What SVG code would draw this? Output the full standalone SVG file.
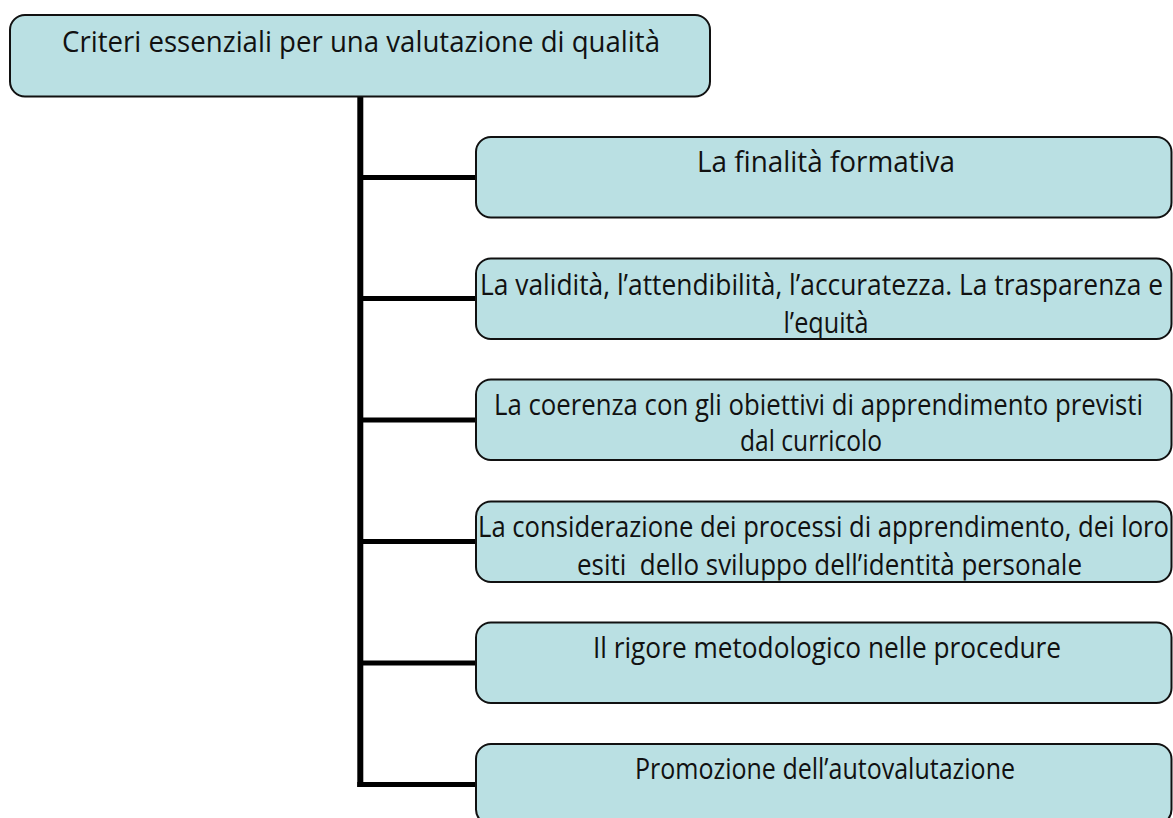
<svg xmlns="http://www.w3.org/2000/svg" width="1173" height="818" viewBox="0 0 1173 818">
<style>
.box{fill:#bae0e3;stroke:#111;stroke-width:2}
.t{font-family:"Open Sans","Noto Sans","Liberation Sans",sans-serif;font-size:29.5px;fill:#111;text-anchor:middle}
.conn{stroke:#000;fill:none}
</style>
<defs>
<clipPath id="c2"><rect x="477" y="259.5" width="694" height="78.5"/></clipPath>
<clipPath id="c4"><rect x="477" y="502.5" width="694" height="78"/></clipPath>
</defs>
<rect width="1173" height="818" fill="#fff"/>
<g id="connectors">
<line class="conn" x1="360.3" y1="96" x2="360.3" y2="787" stroke-width="6"/>
<line class="conn" x1="360" y1="177.5" x2="476" y2="177.5" stroke-width="5"/>
<line class="conn" x1="360" y1="298.5" x2="476" y2="298.5" stroke-width="5"/>
<line class="conn" x1="360" y1="420" x2="476" y2="420" stroke-width="5"/>
<line class="conn" x1="360" y1="541.5" x2="476" y2="541.5" stroke-width="5"/>
<line class="conn" x1="360" y1="663" x2="476" y2="663" stroke-width="5"/>
<line class="conn" x1="357.3" y1="784.5" x2="476" y2="784.5" stroke-width="5"/>
</g>
<g id="root">
<rect class="box" x="10" y="15" width="700" height="81.5" rx="15"/>
<text class="t" x="361" y="51.5" textLength="598" lengthAdjust="spacingAndGlyphs">Criteri essenziali per una valutazione di qualità</text>
</g>
<g id="n1">
<rect class="box" x="476" y="137" width="695.5" height="80.5" rx="15"/>
<text class="t" x="826" y="172.3" textLength="258" lengthAdjust="spacingAndGlyphs">La finalità formativa</text>
</g>
<g id="n2">
<rect class="box" x="476" y="258.5" width="695.5" height="80.5" rx="15"/>
<g clip-path="url(#c2)">
<text class="t" x="821.5" y="294.5" textLength="683" lengthAdjust="spacingAndGlyphs">La validità, l’attendibilità, l’accuratezza. La trasparenza e</text>
<text class="t" x="826" y="332.5" textLength="85" lengthAdjust="spacingAndGlyphs">l’equità</text>
</g>
</g>
<g id="n3">
<rect class="box" x="476" y="379.5" width="695.5" height="80.5" rx="15"/>
<text class="t" x="818.5" y="414.5" textLength="649" lengthAdjust="spacingAndGlyphs">La coerenza con gli obiettivi di apprendimento previsti</text>
<text class="t" x="811" y="451" textLength="142" lengthAdjust="spacingAndGlyphs">dal curricolo</text>
</g>
<g id="n4">
<rect class="box" x="476" y="501.5" width="695.5" height="80.5" rx="15"/>
<g clip-path="url(#c4)">
<text class="t" x="823.5" y="536.7" textLength="691" lengthAdjust="spacingAndGlyphs">La considerazione dei processi di apprendimento, dei loro</text>
<text class="t" x="829.5" y="574.5" textLength="505" lengthAdjust="spacingAndGlyphs" xml:space="preserve">esiti  dello sviluppo dell’identità personale</text>
</g>
</g>
<g id="n5">
<rect class="box" x="476" y="622.5" width="695.5" height="80.5" rx="15"/>
<text class="t" x="827" y="657.5" textLength="468" lengthAdjust="spacingAndGlyphs">Il rigore metodologico nelle procedure</text>
</g>
<g id="n6">
<rect class="box" x="476" y="744" width="695.5" height="80.5" rx="15"/>
<text class="t" x="825" y="779" textLength="380" lengthAdjust="spacingAndGlyphs">Promozione dell’autovalutazione</text>
</g>
</svg>
